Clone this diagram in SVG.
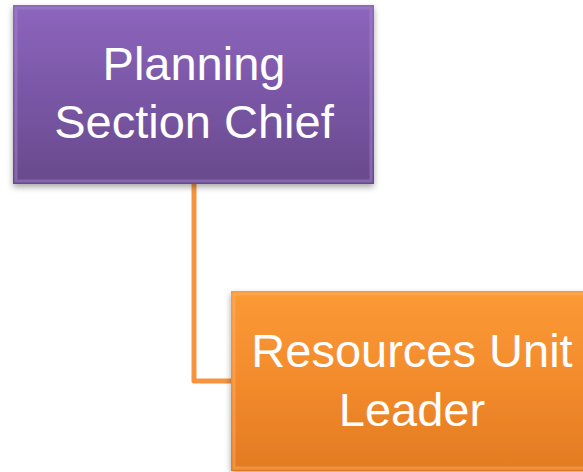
<svg xmlns="http://www.w3.org/2000/svg" width="583" height="472" viewBox="0 0 583 472">
<style>
.lbl{font-family:"Liberation Sans",Arial,sans-serif;font-size:47px;fill:#ffffff;text-anchor:middle}
.conn{fill:none;stroke:#f5933f;stroke-width:5;stroke-linejoin:round}
</style>
<defs>
<linearGradient id="gP" x1="0" y1="0" x2="0" y2="1">
<stop offset="0" stop-color="#8d66bd"/>
<stop offset="0.5" stop-color="#7a56a6"/>
<stop offset="1" stop-color="#684a8c"/>
</linearGradient>
<linearGradient id="gO" x1="0" y1="0" x2="0" y2="1">
<stop offset="0" stop-color="#fb9a36"/>
<stop offset="0.5" stop-color="#f38b2c"/>
<stop offset="1" stop-color="#e27a22"/>
</linearGradient>
<filter id="sh" x="-10%" y="-10%" width="120%" height="130%">
<feDropShadow dx="0" dy="3" stdDeviation="3" flood-color="#000" flood-opacity="0.35"/>
</filter>
</defs>
<g id="connectors">
<path class="conn" d="M194,184 V381 H233"/>
</g>
<g id="node-planning">
<rect x="13" y="5" width="361" height="179" fill="url(#gP)" filter="url(#sh)"/>
<rect x="16" y="8" width="355" height="173" fill="none" stroke="#a184cc" stroke-opacity="0.5" stroke-width="3"/>
<text class="lbl" x="194" y="80">Planning</text>
<text class="lbl" x="194" y="138">Section Chief</text>
</g>
<g id="node-resources">
<rect x="231" y="291" width="362" height="180" fill="url(#gO)" filter="url(#sh)"/>
<rect x="234" y="294" width="356" height="174" fill="none" stroke="#fdb36a" stroke-opacity="0.45" stroke-width="3"/>
<text class="lbl" x="412" y="367">Resources Unit</text>
<text class="lbl" x="412" y="426">Leader</text>
</g>
</svg>
